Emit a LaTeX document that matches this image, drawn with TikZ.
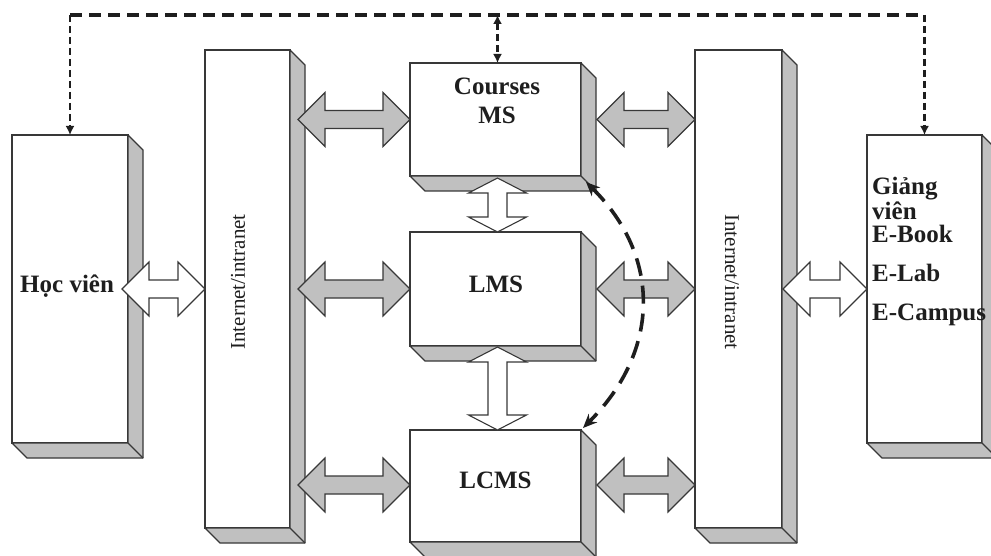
\documentclass[tikz,border=0pt]{standalone}
\usepackage{fontspec}
\setmainfont{Liberation Serif}
\usetikzlibrary{calc,arrows.meta}
\definecolor{edge}{HTML}{383838}
\definecolor{shade}{HTML}{C0C0C0}
\definecolor{ink}{HTML}{1E1E1E}
\tikzset{
  face/.style={draw=edge, line width=1.3pt, fill=white, inner sep=0pt, outer sep=0pt},
  sideface/.style={draw=edge, line width=1.3pt, fill=shade, line join=round},
  blockarrow/.style={draw=edge, line width=1.1pt, line join=miter},
  bigtxt/.style={font=\fontsize{25}{28}\selectfont\bfseries, text=ink, inner sep=0pt},
  nettxt/.style={font=\fontsize{21}{22}\selectfont, text=ink, inner sep=0pt},
  dashtop/.style={draw=ink, line width=3.4pt, dash pattern=on 12pt off 7pt},
  dashvert/.style={draw=ink, line width=2.8pt, dash pattern=on 7pt off 4pt},
  curvedash/.style={draw=ink, line width=3.6pt, dash pattern=on 18pt off 10pt},
}
\newcommand{\boxside}[1]{%
  \draw[sideface] (#1.north east) -- ++(15,15) -- ($(#1.south east)+(15,15)$) -- ($(#1.south west)+(15,15)$) -- (#1.south west) -- (#1.south east) -- cycle;
  \draw[sideface, fill=none] (#1.south east) -- ++(15,15);}
\newcommand{\harrow}[3]{%
  \draw[blockarrow, fill=#3] let \p1=(#1), \p2=(#2) in
   (\x1,\y1) -- (\x1+27pt,\y1+27pt) -- (\x1+27pt,\y1+9pt) -- (\x2-27pt,\y1+9pt) -- (\x2-27pt,\y1+27pt) -- (\x2,\y1)
   -- (\x2-27pt,\y1-27pt) -- (\x2-27pt,\y1-9pt) -- (\x1+27pt,\y1-9pt) -- (\x1+27pt,\y1-27pt) -- cycle;}
\newcommand{\varrow}[3]{%
  \draw[blockarrow, fill=#3] let \p1=(#1), \p2=(#2) in
   (\x1,\y1) -- (\x1+29pt,\y1-15pt) -- (\x1+9.5pt,\y1-15pt) -- (\x1+9.5pt,\y2+15pt) -- (\x1+29pt,\y2+15pt) -- (\x1,\y2)
   -- (\x1-29pt,\y2+15pt) -- (\x1-9.5pt,\y2+15pt) -- (\x1-9.5pt,\y1-15pt) -- (\x1-29pt,\y1-15pt) -- cycle;}
\begin{document}
\begin{tikzpicture}[x=1pt,y=-1pt]
\useasboundingbox (0,0) rectangle (991,556);
% boxes
\node[face, minimum width=116pt, minimum height=308pt] (hv) at (70,289) {};
\node[face, minimum width=85pt, minimum height=478pt] (netL) at (247.5,289) {};
\node[face, minimum width=171pt, minimum height=113pt] (cms) at (495.5,119.5) {};
\node[face, minimum width=171pt, minimum height=114pt] (lms) at (495.5,289) {};
\node[face, minimum width=171pt, minimum height=112pt] (lcms) at (495.5,486) {};
\node[face, minimum width=87pt, minimum height=478pt] (netR) at (738.5,289) {};
\node[face, minimum width=115pt, minimum height=308pt] (gv) at (924.5,289) {};
\boxside{hv}
\boxside{netL}
\boxside{cms}
\boxside{lms}
\boxside{lcms}
\boxside{netR}
\boxside{gv}
% block arrows
\harrow{$(hv.east)+(-6,0)$}{netL.west |- hv.east}{white}
\harrow{$(netL.east |- cms.west)+(8,0)$}{cms.west}{shade}
\harrow{$(netL.east |- lms.west)+(8,0)$}{lms.west}{shade}
\harrow{$(netL.east |- lcms.west)+(8,-1)$}{$(lcms.west)+(0,-1)$}{shade}
\harrow{$(cms.east)+(16,0)$}{netR.west |- cms.east}{shade}
\harrow{$(lms.east)+(16,0)$}{netR.west |- lms.east}{shade}
\harrow{$(lcms.east)+(16,-1)$}{$(netR.west |- lcms.east)+(0,-1)$}{shade}
\harrow{$(netR.east |- gv.west)+(1,0)$}{gv.west}{white}
\varrow{$(cms.south)+(2,2)$}{$(lms.north)+(2,0)$}{white}
\varrow{$(lms.south)+(2,1)$}{$(lcms.north)+(2,0)$}{white}
% texts
\node[bigtxt, anchor=base west] (hvt) at (20,293) {Học viên};
\node[bigtxt, anchor=base] (cmst1) at (497,95) {Courses};
\node[bigtxt, anchor=base] (cmst2) at (497,124) {MS};
\node[bigtxt, anchor=base] (lmst) at (496,293) {LMS};
\node[bigtxt, anchor=base] (lcmst) at (495.5,488) {LCMS};
\node[bigtxt, anchor=base west] (gv1) at (872,195) {Giảng};
\node[bigtxt, anchor=base west] (gv2) at (872,220) {viên};
\node[bigtxt, anchor=base west] (gv3) at (872,243) {E-Book};
\node[bigtxt, anchor=base west] (gv4) at (872,282) {E-Lab};
\node[bigtxt, anchor=base west] (gv5) at (872,320) {E-Campus};
\node[nettxt, rotate=90] (netLt) at (238,282) {Internet/intranet};
\node[nettxt, rotate=-90] (netRt) at (732,282) {Internet/intranet};
% dashed connectors
\coordinate (topy) at (0,15);
\coordinate (dl) at (hv.north |- topy);
\coordinate (dr) at (gv.north |- topy);
\coordinate (dm) at ($(cms.north |- topy)+(2,0)$);
\draw[dashtop] (dl) -- (dr);
\draw[dashvert, -{Latex[length=9pt,width=9pt]}] (dl) -- (hv.north);
\draw[dashvert, -{Latex[length=9pt,width=9pt]}] (dr) -- (gv.north);
\draw[dashvert, {Latex[length=9pt,width=9pt]}-{Latex[length=9pt,width=9pt]}] (dm) -- ($(cms.north)+(2,0)$);
\draw[curvedash, {Stealth[length=14pt,width=12pt]}-{Stealth[length=14pt,width=12pt]}]
  ($(cms.south east)+(5,6)$) .. controls ($(cms.south east)+(80,80)$) and ($(lcms.north east)+(80,-80)$) .. ($(lcms.north east)+(2,-2)$);
\end{tikzpicture}
\end{document}
